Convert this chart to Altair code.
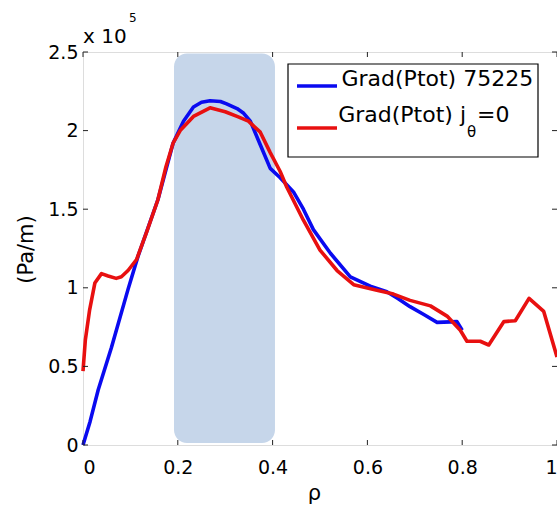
import altair as alt
import pandas as pd

# ---- data (values in units of 1e5 Pa/m) ----
rho_blue = [0.000, 0.015, 0.032, 0.060, 0.095, 0.116, 0.158, 0.175, 0.190, 0.212,
            0.233, 0.250, 0.268, 0.290, 0.303, 0.325, 0.339, 0.353, 0.374, 0.395,
            0.416, 0.444, 0.465, 0.486, 0.522, 0.564, 0.606, 0.641, 0.665, 0.690,
            0.719, 0.747, 0.789, 0.800]
grad_blue = [0.00, 0.15, 0.35, 0.62, 0.99, 1.20, 1.56, 1.75, 1.92, 2.06,
             2.15, 2.18, 2.19, 2.185, 2.17, 2.14, 2.11, 2.06, 1.91, 1.76,
             1.70, 1.61, 1.50, 1.37, 1.22, 1.07, 1.01, 0.975, 0.93, 0.88,
             0.83, 0.78, 0.785, 0.73]

rho_red = [0.000, 0.005, 0.014, 0.025, 0.039, 0.053, 0.070, 0.081, 0.095, 0.113,
           0.135, 0.158, 0.175, 0.190, 0.205, 0.233, 0.268, 0.300, 0.325, 0.349,
           0.374, 0.395, 0.416, 0.430, 0.465, 0.500, 0.536, 0.571, 0.620, 0.655,
           0.690, 0.733, 0.768, 0.796, 0.810, 0.838, 0.856, 0.888, 0.912, 0.941,
           0.972, 1.000]
grad_red = [0.47, 0.67, 0.86, 1.03, 1.09, 1.075, 1.06, 1.07, 1.11, 1.18,
            1.36, 1.56, 1.77, 1.92, 2.00, 2.09, 2.145, 2.12, 2.09, 2.06,
            1.99, 1.86, 1.74, 1.64, 1.43, 1.24, 1.11, 1.02, 0.985, 0.96,
            0.92, 0.885, 0.82, 0.73, 0.66, 0.66, 0.636, 0.785, 0.79, 0.933,
            0.85, 0.56]

series_names = ["Grad(Ptot) 75225", "Grad(Ptot) j=0"]
series_colors = ["#0a0af0", "#e81010"]

shade_rho = [0.192, 0.405]
shade_val = [0.012, 2.49]

x_ticks = [0, 0.2, 0.4, 0.6, 0.8, 1]
y_ticks = [0, 0.5, 1, 1.5, 2, 2.5]

FONT = "DejaVu Sans"
W, H = 474, 393

df = pd.concat([
    pd.DataFrame({"rho": rho_blue, "val": grad_blue, "series": series_names[0], "order": range(len(rho_blue))}),
    pd.DataFrame({"rho": rho_red, "val": grad_red, "series": series_names[1], "order": range(len(rho_red))}),
])

xscale = alt.Scale(domain=[0, 1], nice=False, zero=False)
yscale = alt.Scale(domain=[0, 2.5], nice=False, zero=False)

shade = alt.Chart(pd.DataFrame({"x": [shade_rho[0]], "x2": [shade_rho[1]],
                                "y": [shade_val[0]], "y2": [shade_val[1]]})).mark_rect(
    color="#c6d6ea", cornerRadius=13
).encode(
    x=alt.X("x:Q", scale=xscale,
            axis=alt.Axis(values=x_ticks, labelExpr="datum.value == 0 ? '0' : datum.value == 1 ? '1' : format(datum.value, '.1f')",
                          domain=False, ticks=False, grid=False, labelFont=FONT, labelFontSize=19,
                          labelColor="black", labelPadding=13, title="ρ", titleFont=FONT,
                          titleFontSize=21, titleFontWeight="normal", titleColor="black",
                          titleX=231, titleY=54, titleBaseline="alphabetic", titleAlign="center")),
    x2="x2:Q",
    y=alt.Y("y:Q", scale=yscale,
            axis=alt.Axis(values=y_ticks, labelExpr="datum.value == 0 ? '0' : datum.value % 1 == 0 ? format(datum.value, 'd') : format(datum.value, '.1f')",
                          domain=False, ticks=False, grid=False, labelFont=FONT, labelFontSize=19,
                          labelColor="black", labelPadding=5, title="(Pa/m)", titleFont=FONT,
                          titleFontSize=21, titleFontWeight="normal", titleColor="black",
                          titleAngle=270, titleX=-51, titleY=197, titleBaseline="alphabetic",
                          titleAlign="center")),
    y2="y2:Q",
)

lines = alt.Chart(df).mark_line(strokeWidth=3.6, strokeJoin="round").encode(
    x=alt.X("rho:Q", scale=xscale),
    y=alt.Y("val:Q", scale=yscale),
    color=alt.Color("series:N", scale=alt.Scale(domain=series_names, range=series_colors), legend=None),
    order="order:Q",
)

xt = pd.DataFrame({"t": x_ticks})
yt = pd.DataFrame({"t": y_ticks})
tick_color = "#222222"
bottom_ticks = alt.Chart(xt).mark_rule(color=tick_color, strokeWidth=1).encode(
    x=alt.X("t:Q", scale=xscale), y=alt.value(H), y2=alt.value(H - 5))
top_ticks = alt.Chart(xt).mark_rule(color=tick_color, strokeWidth=1).encode(
    x=alt.X("t:Q", scale=xscale), y=alt.value(0), y2=alt.value(5))
left_ticks = alt.Chart(yt).mark_rule(color=tick_color, strokeWidth=1).encode(
    y=alt.Y("t:Q", scale=yscale), x=alt.value(0), x2=alt.value(5))
right_ticks = alt.Chart(yt).mark_rule(color=tick_color, strokeWidth=1).encode(
    y=alt.Y("t:Q", scale=yscale), x=alt.value(W), x2=alt.value(W - 5))

one = alt.Data(values=[{"a": 1}])

legend_box = alt.Chart(one).mark_rect(fill="white", stroke="black", strokeWidth=1.2).encode(
    x=alt.value(205), x2=alt.value(455), y=alt.value(12), y2=alt.value(105))
leg_blue = alt.Chart(one).mark_rule(color=series_colors[0], strokeWidth=3.6).encode(
    x=alt.value(214), x2=alt.value(254), y=alt.value(34))
leg_red = alt.Chart(one).mark_rule(color=series_colors[1], strokeWidth=3.6).encode(
    x=alt.value(214), x2=alt.value(254), y=alt.value(76))

def txt(s, x, y, size, align="left"):
    return alt.Chart(one).mark_text(text=s, font=FONT, fontSize=size, align=align,
                                    baseline="alphabetic", color="black").encode(
        x=alt.value(x), y=alt.value(y))

leg_t1 = txt("Grad(Ptot) 75225", 258.5, 34, 22)
leg_t2 = txt("Grad(Ptot) j", 383, 70, 22, align="right")
leg_t2b = txt("θ", 384, 85, 15)
leg_t2c = txt("=0", 394, 70, 22)

mult = txt("x 10", 0, -9, 20)
mult_exp = txt("5", 46, -30, 12)

chart = alt.layer(
    shade, lines, bottom_ticks, top_ticks, left_ticks, right_ticks,
    legend_box, leg_blue, leg_red, leg_t1, leg_t2, leg_t2b, leg_t2c, mult, mult_exp
).properties(
    width=W, height=H,
    autosize=alt.AutoSizeParams(type="none"),
    padding={"left": 83, "top": 52, "right": 0, "bottom": 69},
).configure_view(stroke="black", strokeWidth=1.2).configure(background="white")

chart.save("out.html", embed_options={"renderer": "svg", "actions": False})
